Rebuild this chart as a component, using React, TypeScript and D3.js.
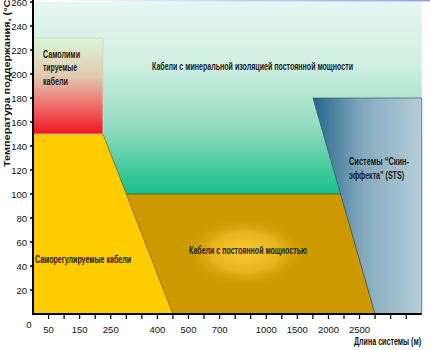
import React from "react";
import * as d3 from "d3";

// ---- data ----
const lengthStops = [0, 50, 150, 250, 400, 500, 700, 1000, 1500, 2000, 2500, 3000, 3500];
const tickSlots = [0, 1, 3, 5, 8, 10, 12, 15, 17, 19, 21, 23, 25];
const xTickLabels = [50, 150, 250, 400, 500, 700, 1000, 1500, 2000, 2500];
const yTicks = [20, 40, 60, 80, 100, 120, 140, 160, 180, 200, 220, 240, 260];

// regions: [length (m), temperature (°C)] polygons
const mineralCables: [number, number][] = [[0, 0], [0, 260], [3500, 260], [3500, 0]];
const constantPower: [number, number][] = [[225, 100], [2200, 100], [2750, 0], [450, 0]];
const selfRegulating: [number, number][] = [[0, 0], [0, 150], [225, 150], [450, 0]];
const selfLimiting: [number, number][] = [[0, 150], [0, 230], [225, 230], [225, 150]];
const skinEffect: [number, number][] = [[1750, 180], [3500, 180], [3500, 0], [2750, 0]];

const NARROW = "'Liberation Sans Narrow', 'Arial Narrow', 'Liberation Sans', Arial, sans-serif";

export default function App() {
  const x0 = 33;
  const step = 15.55;
  const x = d3.scaleLinear().domain(lengthStops).range(tickSlots.map((i) => x0 + i * step));
  const y = d3.scaleLinear().domain([0, 260]).range([314, 2]);
  const line = d3.line<[number, number]>().x((d) => x(d[0])).y((d) => y(d[1]));
  const poly = (p: [number, number][]) => line(p) + "Z";
  const minorTicks = d3.range(1, 25);

  return (
    <svg width={430} height={350} style={{ position: "absolute", left: 0, top: 0, background: "#fff" }}>
      <defs>
        <linearGradient id="gMin" x1="0" y1="0" x2="0" y2="1">
          <stop offset="0" stopColor="#e6f7f1" />
          <stop offset="0.2" stopColor="#d0efe2" />
          <stop offset="0.4" stopColor="#93dcbf" />
          <stop offset="0.6" stopColor="#1fc28e" />
          <stop offset="1" stopColor="#1fc28e" />
        </linearGradient>
        <linearGradient id="gLim" x1="0" y1="0" x2="0" y2="1">
          <stop offset="0" stopColor="#d8f7d6" />
          <stop offset="0.4" stopColor="#e2c9ae" />
          <stop offset="0.75" stopColor="#f06060" />
          <stop offset="1" stopColor="#ee1520" />
        </linearGradient>
        <linearGradient id="gSts" x1="0" y1="0" x2="1" y2="0">
          <stop offset="0" stopColor="#25668a" />
          <stop offset="0.45" stopColor="#83a8bc" />
          <stop offset="1" stopColor="#b6ced9" />
        </linearGradient>
        <radialGradient id="gGlow">
          <stop offset="0" stopColor="#ffcb35" stopOpacity="1" />
          <stop offset="0.55" stopColor="#f5c02a" stopOpacity="0.7" />
          <stop offset="1" stopColor="#cc9900" stopOpacity="0" />
        </radialGradient>
        <linearGradient id="gTop" x1="0" y1="0" x2="1" y2="0">
          <stop offset="0" stopColor="#ffffff" />
          <stop offset="0.4" stopColor="#d8d8f4" />
          <stop offset="1" stopColor="#9c9ce0" />
        </linearGradient>
      </defs>

      <rect x={33} y={0} width={397} height={1.5} fill="url(#gTop)" />
      <path d={poly(mineralCables)} fill="url(#gMin)" />
      <path d={poly(constantPower)} fill="#cc9a00" stroke="#3c4a2a" strokeWidth={0.7} />
      <ellipse cx={245} cy={252} rx={62} ry={36} fill="url(#gGlow)" />
      <path d={poly(selfRegulating)} fill="#ffcc00" stroke="#5c5020" strokeWidth={0.6} />
      <path d={poly(selfLimiting)} fill="url(#gLim)" stroke="#c0dcc0" strokeWidth={0.8} />
      <path d={poly(skinEffect)} fill="url(#gSts)" stroke="#2d4d60" strokeWidth={0.6} />

      {/* axes */}
      <line x1={x0} x2={x0} y1={0} y2={y(0) + 1} stroke="#000" strokeWidth={2} />
      <line x1={x0 - 1} x2={x(3500)} y1={y(0)} y2={y(0)} stroke="#000" strokeWidth={2} />
      {yTicks.map((t) => (
        <g key={"y" + t}>
          <line x1={x0 - 3} x2={x0} y1={y(t)} y2={y(t)} stroke="#000" strokeWidth={1.5} />
          <text x={27} y={y(t) + 3.5} textAnchor="end" fontFamily={NARROW} fontSize={9.5} fill="#111">
            {t}
          </text>
        </g>
      ))}
      <text x={29} y={327.5} textAnchor="middle" fontFamily={NARROW} fontSize={9.5} fill="#111">0</text>
      {minorTicks.map((i) => (
        <line key={"t" + i} x1={x0 + i * step} x2={x0 + i * step} y1={y(0)} y2={y(0) + 5} stroke="#000" strokeWidth={1.2} />
      ))}
      {xTickLabels.map((v) => (
        <text key={"x" + v} x={x(v)} y={333} textAnchor="middle" fontFamily={NARROW} fontSize={9.5} fill="#111">
          {v}
        </text>
      ))}

      {/* titles */}
      <text transform="translate(10,167) rotate(-90)" fontFamily="'Liberation Sans', Arial, sans-serif" fontWeight="bold" fontSize={9.5} fill="#111" textLength={171} lengthAdjust="spacingAndGlyphs">
        Температура поддержания, (°C)
      </text>
      <text x={421} y={345} textAnchor="end" fontFamily={NARROW} fontWeight="bold" fontSize={10} fill="#111" textLength={67} lengthAdjust="spacingAndGlyphs">
        Длина системы (м)
      </text>

      {/* region labels */}
      <g fontFamily={NARROW} fontSize={10} fontWeight="bold" fill="#1a1a1a">
        <text x={152} y={70} textLength={201} lengthAdjust="spacingAndGlyphs">Кабели с минеральной изоляцией постоянной мощности</text>
        <text x={43} y={57.5} textLength={37} lengthAdjust="spacingAndGlyphs">Самолими</text>
        <text x={43} y={71} textLength={34} lengthAdjust="spacingAndGlyphs">тируемые</text>
        <text x={43} y={84.5} textLength={25} lengthAdjust="spacingAndGlyphs">кабели</text>
        <text x={35} y={263} textLength={96} lengthAdjust="spacingAndGlyphs">Саморегулируемые кабели</text>
        <text x={189} y={254} textLength={118} lengthAdjust="spacingAndGlyphs">Кабели с постоянной мощностью</text>
        <text x={349} y={165} textLength={60} lengthAdjust="spacingAndGlyphs">Системы “Скин-</text>
        <text x={349} y={179} textLength={55} lengthAdjust="spacingAndGlyphs">эффекта” (STS)</text>
      </g>
    </svg>
  );
}
